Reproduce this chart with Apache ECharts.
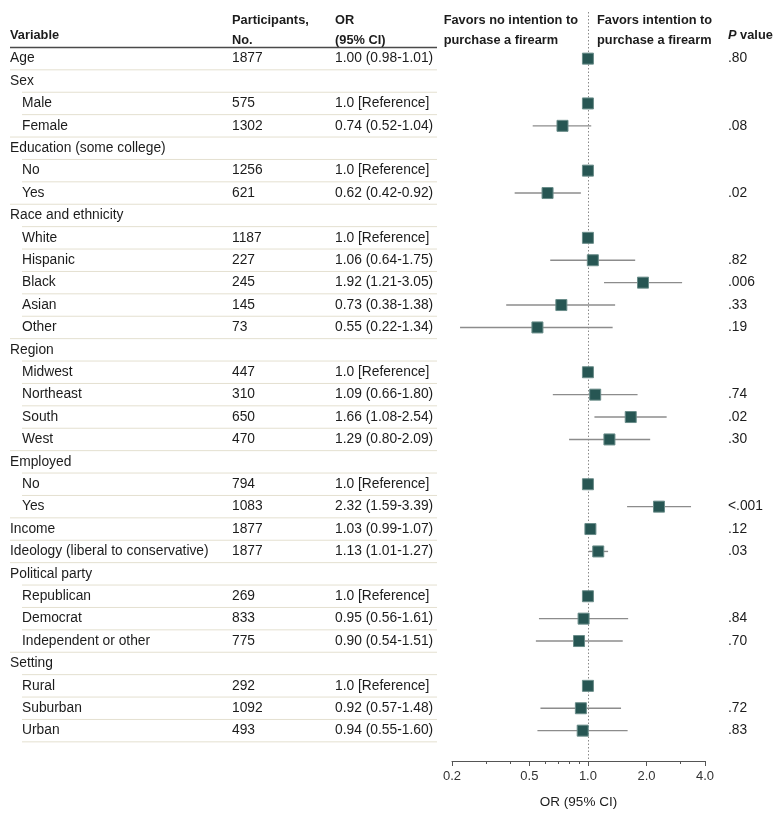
<!DOCTYPE html>
<html>
<head>
<meta charset="utf-8">
<title>Forest plot</title>
<script src="https://cdn.jsdelivr.net/npm/echarts@6/dist/echarts.min.js"></script>
<style>
  html, body { margin: 0; padding: 0; background: #fff; }
  #main { width: 780px; height: 814px; }
</style>
</head>
<body>
<div id="main"></div>
<script>
// rows of the table, top to bottom
var variables = ['Age', 'Sex', 'Male', 'Female', 'Education (some college)', 'No', 'Yes',
  'Race and ethnicity', 'White', 'Hispanic', 'Black', 'Asian', 'Other', 'Region', 'Midwest',
  'Northeast', 'South', 'West', 'Employed', 'No', 'Yes', 'Income',
  'Ideology (liberal to conservative)', 'Political party', 'Republican', 'Democrat',
  'Independent or other', 'Setting', 'Rural', 'Suburban', 'Urban'];
var indented = [0, 0, 1, 1, 0, 1, 1, 0, 1, 1, 1, 1, 1, 0, 1, 1, 1, 1, 0, 1, 1, 0, 0, 0, 1, 1, 1, 0, 1, 1, 1];
var participants = ['1877', '', '575', '1302', '', '1256', '621', '', '1187', '227', '245', '145', '73',
  '', '447', '310', '650', '470', '', '794', '1083', '1877', '1877', '', '269', '833', '775',
  '', '292', '1092', '493'];
var orText = ['1.00 (0.98-1.01)', '', '1.0 [Reference]', '0.74 (0.52-1.04)', '', '1.0 [Reference]',
  '0.62 (0.42-0.92)', '', '1.0 [Reference]', '1.06 (0.64-1.75)', '1.92 (1.21-3.05)',
  '0.73 (0.38-1.38)', '0.55 (0.22-1.34)', '', '1.0 [Reference]', '1.09 (0.66-1.80)',
  '1.66 (1.08-2.54)', '1.29 (0.80-2.09)', '', '1.0 [Reference]', '2.32 (1.59-3.39)',
  '1.03 (0.99-1.07)', '1.13 (1.01-1.27)', '', '1.0 [Reference]', '0.95 (0.56-1.61)',
  '0.90 (0.54-1.51)', '', '1.0 [Reference]', '0.92 (0.57-1.48)', '0.94 (0.55-1.60)'];
var orValue = [1.00, null, 1.0, 0.74, null, 1.0, 0.62, null, 1.0, 1.06, 1.92, 0.73, 0.55, null, 1.0,
  1.09, 1.66, 1.29, null, 1.0, 2.32, 1.03, 1.13, null, 1.0, 0.95, 0.90, null, 1.0, 0.92, 0.94];
var ciLow = [0.98, null, null, 0.52, null, null, 0.42, null, null, 0.64, 1.21, 0.38, 0.22, null, null,
  0.66, 1.08, 0.80, null, null, 1.59, 0.99, 1.01, null, null, 0.56, 0.54, null, null, 0.57, 0.55];
var ciHigh = [1.01, null, null, 1.04, null, null, 0.92, null, null, 1.75, 3.05, 1.38, 1.34, null, null,
  1.80, 2.54, 2.09, null, null, 3.39, 1.07, 1.27, null, null, 1.61, 1.51, null, null, 1.48, 1.60];
var pValues = ['.80', '', '', '.08', '', '', '.02', '', '', '.82', '.006', '.33', '.19', '', '',
  '.74', '.02', '.30', '', '', '<.001', '.12', '.03', '', '', '.84', '.70', '', '', '.72', '.83'];
var majorTicks = [0.2, 0.5, 1.0, 2.0, 4.0];
var minorTicks = [0.3, 0.4, 0.6, 0.7, 0.8, 0.9, 3.0];

var FONT = 'Liberation Sans, Arial, sans-serif';
var TXT = '#1c1c1c';

var myChart = echarts.init(document.getElementById('main'));

var pointData = [], ciData = [], rowData = [];
for (var i = 0; i < variables.length; i++) {
  rowData.push([1, i]);
  if (orValue[i] != null) pointData.push([orValue[i], i]);
  if (ciLow[i] != null) ciData.push([ciLow[i], ciHigh[i], i]);
}

// table part (text + row rules), placed on the same rows as the plot
function renderRow(params, api) {
  var i = api.value(1);
  var y = api.coord([1, i])[1];
  var yTop = api.coord([1, i - 0.5])[1];
  var yBot = api.coord([1, i + 0.5])[1];
  var x0 = indented[i] ? 22 : 10;
  var kids = [];
  kids.push({
    type: 'line',
    shape: { x1: i === 0 ? 10 : x0, y1: yTop, x2: 437, y2: yTop },
    style: { stroke: i === 0 ? '#4a4a4a' : '#e4e0d0', lineWidth: i === 0 ? 1.5 : 1 }
  });
  if (i === variables.length - 1) {
    kids.push({
      type: 'line',
      shape: { x1: x0, y1: yBot, x2: 437, y2: yBot },
      style: { stroke: '#e4e0d0', lineWidth: 1 }
    });
  }
  var cols = [[x0, variables[i]], [232, participants[i]], [335, orText[i]], [728, pValues[i]]];
  cols.forEach(function (c) {
    if (!c[1]) return;
    kids.push({
      type: 'text',
      style: { x: c[0], y: y, text: c[1], fill: TXT, font: '13.8px ' + FONT, align: 'left', verticalAlign: 'middle' }
    });
  });
  return { type: 'group', children: kids };
}

function renderCI(params, api) {
  var a = api.coord([api.value(0), api.value(2)]);
  var b = api.coord([api.value(1), api.value(2)]);
  return {
    type: 'line',
    shape: { x1: a[0], y1: a[1], x2: b[0], y2: b[1] },
    style: { stroke: '#8c8c8c', lineWidth: 1.4 }
  };
}

var boldFont = 'bold 12.8px ' + FONT;

var option = {
  animation: false,
  grid: { left: 452, right: 75, top: 12, bottom: 52, containLabel: false },
  xAxis: [{
    type: 'log',
    logBase: 10,
    min: 0.2,
    max: 4,
    position: 'bottom',
    name: 'OR (95% CI)',
    nameLocation: 'middle',
    nameGap: 34,
    nameTextStyle: { color: TXT, fontSize: 13.5, fontFamily: FONT },
    axisLine: { show: true, onZero: false, lineStyle: { color: '#555', width: 1 } },
    axisTick: { show: true, length: 5, customValues: majorTicks, lineStyle: { color: '#555' } },
    axisLabel: {
      customValues: majorTicks,
      margin: 9,
      color: '#333',
      fontSize: 13,
      fontFamily: FONT,
      formatter: function (v) { return Number(v).toFixed(1); }
    },
    splitLine: { show: false },
    minorTick: { show: false }
  }, {
    type: 'log',
    logBase: 10,
    min: 0.2,
    max: 4,
    position: 'bottom',
    axisLine: { show: false, onZero: false },
    axisTick: { show: true, length: 3, customValues: minorTicks, lineStyle: { color: '#555' } },
    axisLabel: { show: false },
    splitLine: { show: false }
  }],
  yAxis: {
    type: 'value',
    inverse: true,
    min: -2.082,
    max: 31.355,
    show: false
  },
  graphic: [
    { type: 'text', left: 10, top: 29, style: { text: 'Variable', font: boldFont, fill: TXT } },
    { type: 'text', left: 232, top: 10, style: { text: 'Participants,\nNo.', font: boldFont, fill: TXT, lineHeight: 20 } },
    { type: 'text', left: 335, top: 10, style: { text: 'OR\n(95% CI)', font: boldFont, fill: TXT, lineHeight: 20 } },
    { type: 'text', right: 202, top: 10, style: { text: 'Favors no intention to\npurchase a firearm', font: boldFont, fill: TXT, lineHeight: 20, align: 'right' } },
    { type: 'text', left: 597, top: 10, style: { text: 'Favors intention to\npurchase a firearm', font: boldFont, fill: TXT, lineHeight: 20 } },
    {
      type: 'text', left: 728, top: 29,
      style: {
        text: '{i|P} value', fill: TXT, font: boldFont,
        rich: { i: { fontStyle: 'italic', fontWeight: 'bold', fontSize: 12.8, fontFamily: FONT, fill: TXT } }
      }
    }
  ],
  series: [{
    type: 'custom',
    name: 'table',
    clip: false,
    silent: true,
    renderItem: renderRow,
    encode: { x: 0, y: 1 },
    data: rowData,
    z: 1
  }, {
    type: 'custom',
    name: 'ci',
    clip: false,
    silent: true,
    renderItem: renderCI,
    encode: { x: [0, 1], y: 2 },
    data: ciData,
    z: 2,
    // no-effect line at OR = 1, kept below the squares
    markLine: {
      silent: true,
      symbol: 'none',
      label: { show: false },
      lineStyle: { color: '#8a8a8a', type: [1.5, 2], width: 1 },
      data: [{ xAxis: 1 }]
    }
  }, {
    type: 'scatter',
    name: 'OR',
    symbol: 'rect',
    symbolSize: 11,
    silent: true,
    itemStyle: { color: '#275653', borderColor: '#6a8d8a', borderWidth: 1, opacity: 1 },
    data: pointData,
    z: 10
  }]
};

myChart.setOption(option);
</script>
</body>
</html>
